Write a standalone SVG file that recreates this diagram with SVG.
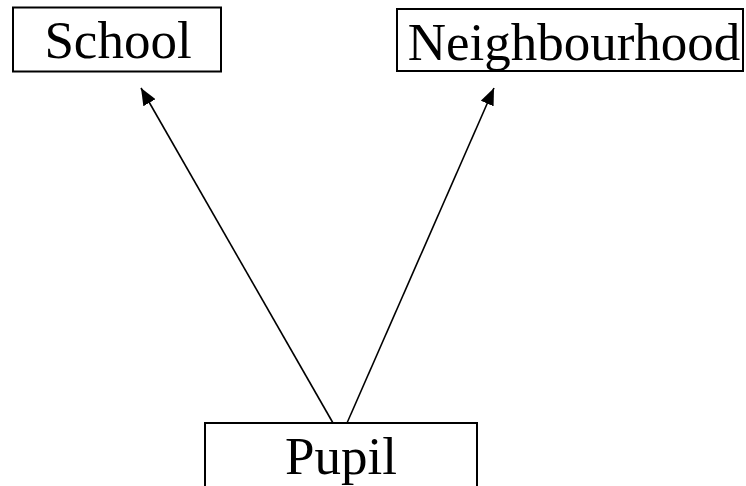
<svg xmlns="http://www.w3.org/2000/svg" width="746" height="486" viewBox="0 0 746 486">
  <style>
    .box { fill: #ffffff; stroke: #000000; stroke-width: 2; }
    .label { font-family: "Liberation Serif", "Times New Roman", serif; font-size: 53px; fill: #000000; text-anchor: middle; }
    .edge { stroke: #000000; stroke-width: 1.6; fill: none; marker-end: url(#arrow); }
  </style>
  <defs>
    <marker id="arrow" viewBox="0 0 10 10" refX="10" refY="5" markerWidth="17" markerHeight="14" markerUnits="userSpaceOnUse" orient="auto" preserveAspectRatio="none">
      <path d="M0,0 L10,5 L0,10 z" fill="#000000"/>
    </marker>
  </defs>
  <rect width="746" height="486" fill="#ffffff"/>
  <g id="connectors">
    <line class="edge" x1="333" y1="423" x2="141" y2="88"/>
    <line class="edge" x1="347" y1="423" x2="494" y2="88"/>
  </g>
  <g id="school">
    <rect class="box" x="13" y="7.5" width="208" height="64"/>
    <text class="label" x="118" y="58">School</text>
  </g>
  <g id="neighbourhood">
    <rect class="box" x="397" y="9" width="346" height="62"/>
    <text class="label" x="574" y="60">Neighbourhood</text>
  </g>
  <g id="pupil">
    <rect class="box" x="205" y="423" width="272" height="80"/>
    <text class="label" x="341" y="474">Pupil</text>
  </g>
</svg>
